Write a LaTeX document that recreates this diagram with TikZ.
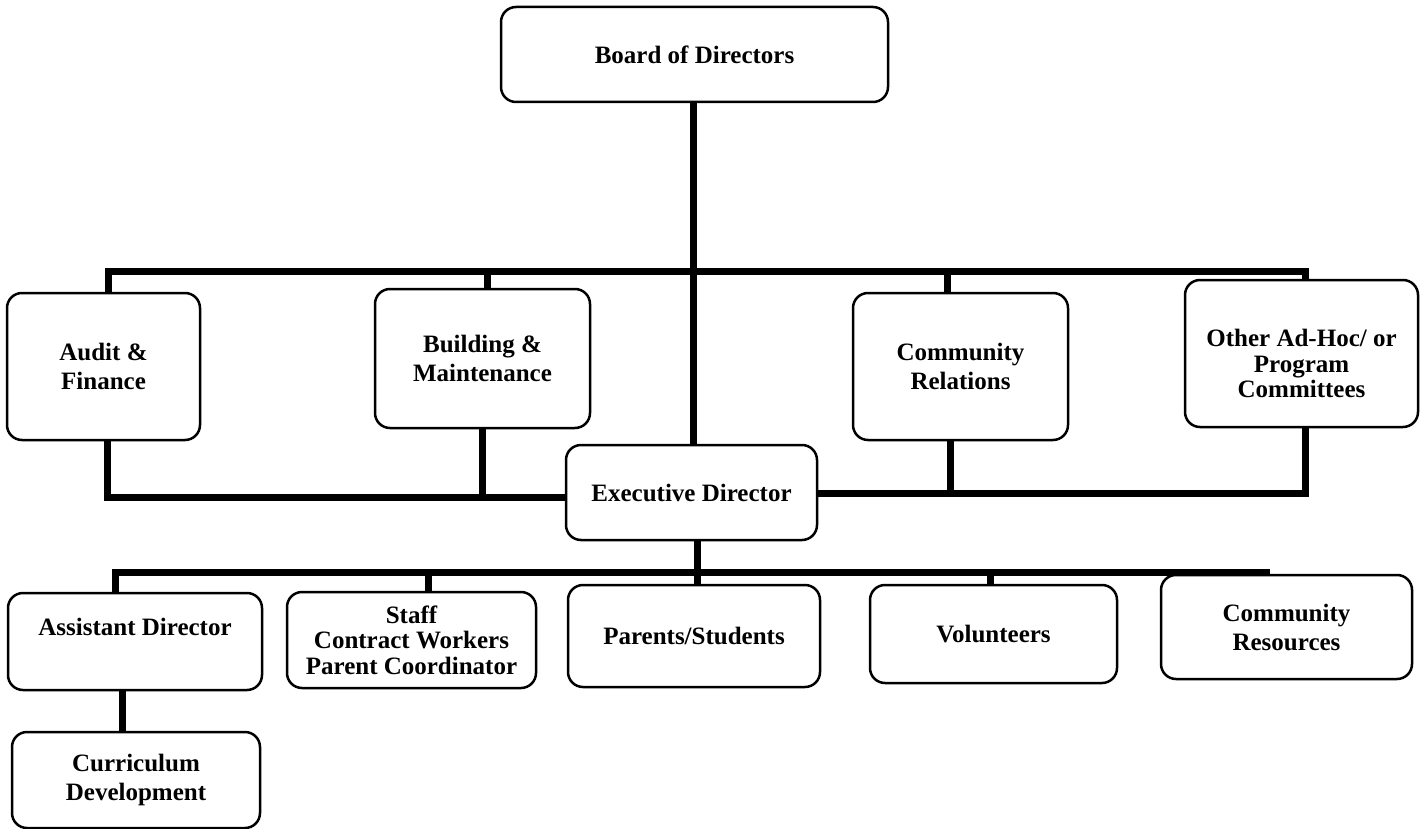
\documentclass[tikz,border=0pt]{standalone}
\usepackage{fontspec}
\setmainfont{Liberation Serif}
\usepackage{tikz}

\begin{document}
\begin{tikzpicture}[
        x=1pt, y=-1pt,
        box/.style={rectangle, draw, rounded corners=15pt, line width=2.5pt, align=center,
            font=\bfseries\fontsize{25}{29}\selectfont},
        tight/.style={box, font=\bfseries\fontsize{25}{25.5}\selectfont},
        bus/.style={line width=7pt}
    ]
        \useasboundingbox (0,0) rectangle (1423,829);

        % Board
        \node[box, minimum width=387pt, minimum height=95pt] (board) at (694.5,54.5) {Board of Directors};

        % Committees
        \node[box, minimum width=193pt, minimum height=147pt] (audit) at (103.5,366.5) {Audit \&\\Finance};
        \node[box, minimum width=215pt, minimum height=139pt] (building) at (482.5,358.5) {Building \&\\Maintenance};
        \node[box, minimum width=215pt, minimum height=147pt] (relations) at (960.5,366.5) {Community\\Relations};
        \node[tight, minimum width=233pt, minimum height=147pt] (adhoc) at (1301.5,353.5) {\mbox{}\\[12pt]Other Ad-Hoc/ or\\Program\\Committees};

        % Executive
        \node[box, minimum width=251pt, minimum height=95pt] (exec) at (691.5,492.5) {Executive Director};

        % Under the executive
        \node[box, minimum width=254pt, minimum height=97pt] (assistant) at (135,641.5) {Assistant Director\\ \mbox{}};
        \node[tight, minimum width=249pt, minimum height=96pt] (staff) at (411.5,640) {Staff\\Contract Workers\\Parent Coordinator};
        \node[box, minimum width=252pt, minimum height=102pt] (parents) at (694,636) {Parents/Students};
        \node[box, minimum width=247pt, minimum height=98pt] (volunteers) at (993.5,634) {Volunteers};
        \node[box, minimum width=251pt, minimum height=104pt] (resources) at (1286.5,627) {Community\\Resources};
        \node[box, minimum width=248pt, minimum height=96pt] (curriculum) at (136,780) {Curriculum\\Development};

        % Bus points
        \coordinate (tbus) at (693,271);
        \coordinate (tl) at (108,271);
        \coordinate (tb) at (487,271);
        \coordinate (tc) at (947,271);
        \coordinate (tr) at (1305,271);
        \coordinate (ll) at (107,497);
        \coordinate (lb) at (482,497);
        \coordinate (rc) at (950,493);
        \coordinate (rr) at (1305,493);
        \coordinate (bx) at (697,572);
        \coordinate (bl) at (115,572);
        \coordinate (bs) at (428,572);
        \coordinate (bv) at (990,572);
        \coordinate (br) at (1266,572);
        \coordinate (ac) at (122,710);

        % Connections
        \draw[bus] (board.south -| tbus) -- (exec.north -| tbus);
        \draw[bus] (audit.north -| tl) -- (tl) -- (tr) -- (adhoc.north -| tr);
        \draw[bus] (tb) -- (building.north -| tb);
        \draw[bus] (tc) -- (relations.north -| tc);

        \draw[bus] (audit.south -| ll) -- (ll) -- (exec.west |- ll);
        \draw[bus] (building.south -| lb) -- (lb);
        \draw[bus] (exec.east |- rr) -- (rr) -- (adhoc.south -| rr);
        \draw[bus] (relations.south -| rc) -- (rc);

        \draw[bus] (exec.south -| bx) -- (parents.north -| bx);
        \draw[bus] (assistant.north -| bl) -- (bl) -- (br) -- (resources.north -| br);
        \draw[bus] (bs) -- (staff.north -| bs);
        \draw[bus] (bv) -- (volunteers.north -| bv);
        \draw[bus] (assistant.south -| ac) -- (curriculum.north -| ac);
    \end{tikzpicture}
\end{document}
